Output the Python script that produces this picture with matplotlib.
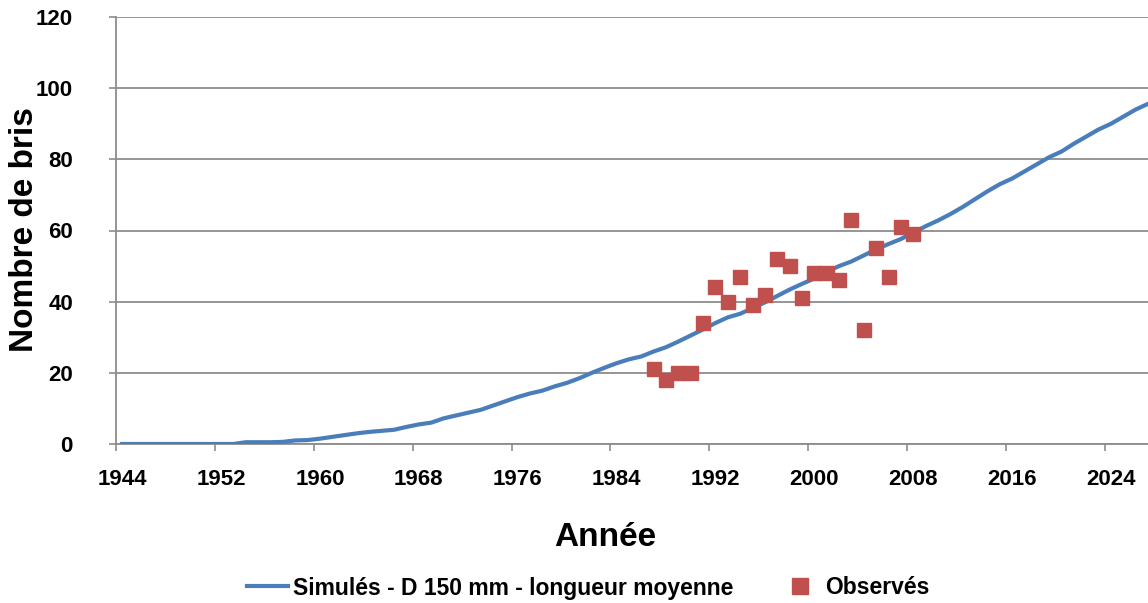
import matplotlib.pyplot as plt
import numpy as np

# simulated number of breaks, one value per year 1944..2027
years_sim = list(range(1944, 2028))
simules = [0, 0, 0, 0, 0, 0, 0, 0, 0, 0,
           0.5, 0.5, 0.5, 0.6, 1.0, 1.1, 1.5, 2.0, 2.5, 3.0,
           3.4, 3.7, 4.0, 4.8, 5.5, 6.0, 7.2, 8.0, 8.8, 9.6,
           10.8, 12.0, 13.2, 14.2, 15.0, 16.2, 17.2, 18.5, 20.0, 21.4,
           22.7, 23.8, 24.6, 26.0, 27.2, 28.8, 30.5, 32.2, 34.0, 35.6,
           36.6, 38.2, 39.8, 41.6, 43.4, 45.0, 46.5, 48.4, 50.0, 51.3,
           53.0, 54.7, 56.2, 57.6, 59.4, 61.2, 62.8, 64.6, 66.6, 68.8,
           71.0, 73.0, 74.6, 76.6, 78.6, 80.6, 82.2, 84.4, 86.4, 88.4,
           90.0, 92.0, 94.0, 95.6]

# observed breaks 1987..2008
years_obs = list(range(1987, 2009))
observes = [21, 18, 20, 20, 34, 44, 40, 47, 39, 42, 52,
            50, 41, 48, 48, 46, 63, 32, 55, 47, 61, 59]

tick_years = list(range(1944, 2028, 8))
y_ticks = [0, 20, 40, 60, 80, 100, 120]

BLUE = '#4A7EBB'
RED = '#C0504D'
GRID = '#8C8C8C'

plt.rcParams['font.family'] = ['Liberation Sans', 'DejaVu Sans']
plt.rcParams['font.weight'] = 'bold'

W, H = 1148, 603
fig = plt.figure(figsize=(W / 100, H / 100), dpi=100)
ax = fig.add_axes([116 / W, (H - 444) / H, (W - 116) / W, (444 - 17) / H])

ax.plot(years_sim, simules, '-', color=BLUE, linewidth=3.0,
        label='Simulés - D 150 mm - longueur moyenne', zorder=3)
ax.plot(years_obs, observes, 's', color=RED, markersize=10.5,
        linestyle='none', label='Observés', zorder=4)

ax.set_xlim(1943.5, 1943.5 + (W - 116) / 12.36)
ax.set_ylim(0, 120)

# ticks between categories, labels centred on the category
ax.set_xticks([y - 0.5 for y in tick_years])
ax.set_xticklabels([])
ax.set_xticks(tick_years, minor=True)
ax.set_xticklabels([str(y) for y in tick_years], minor=True)
ax.tick_params(axis='x', which='major', direction='out', length=5,
               width=1.2, color=GRID)
ax.tick_params(axis='x', which='minor', length=0, pad=18, labelsize=16)
ax.set_yticks(y_ticks)
ax.tick_params(axis='y', direction='out', length=5, width=1.2,
               color=GRID, pad=26, labelsize=16)

ax.grid(axis='y', color=GRID, linewidth=1.3)
ax.set_axisbelow(True)
for side in ['top', 'right']:
    ax.spines[side].set_visible(False)
for side in ['left', 'bottom']:
    ax.spines[side].set_color(GRID)
    ax.spines[side].set_linewidth(1.3)

fig.text(605 / W, 1 - 537 / H, 'Année', fontsize=24, fontweight='bold',
         ha='center', va='center')
fig.text(25 / W, 1 - 230 / H, 'Nombre de bris', fontsize=24, fontweight='bold',
         ha='center', va='center', rotation=90)

fig.legend(loc='center', bbox_to_anchor=(588 / W, 1 - 588 / H), ncol=2,
           frameon=False, fontsize=16.5, handlelength=1.8, handletextpad=0.2,
           columnspacing=2.0, markerscale=1.1)

fig.savefig('out.png', dpi=100)
